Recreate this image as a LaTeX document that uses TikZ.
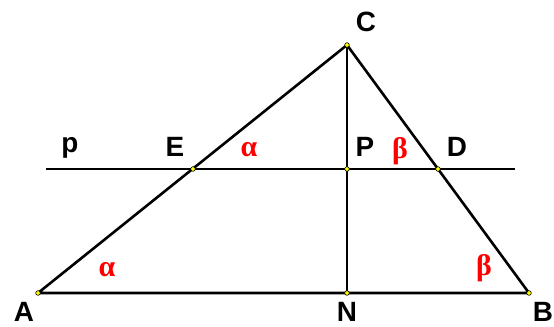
\documentclass[tikz,border=0pt]{standalone}
\usepackage{fontspec}
\setmainfont{Liberation Sans}
\newfontfamily\greekfont{Liberation Serif}
\usepackage{tikz}
\definecolor{ptyellow}{HTML}{FFFF00}

\begin{document}
\begin{tikzpicture}[
    x=1bp,y=-1bp,
    pt/.style={circle,draw=black,fill=ptyellow,inner sep=0pt,minimum size=4.6bp,line width=0.6bp},
    seg/.style={line width=2.6bp,line join=round},
    lbl/.style={inner sep=0pt,font=\bfseries\fontsize{28}{28}\selectfont},
    ang/.style={inner sep=0pt,text=red,font=\greekfont\bfseries\fontsize{30}{30}\selectfont}
  ]
  \useasboundingbox (0,0) rectangle (554,326);
  % vertices and points on the parallel p
  \coordinate (A) at (38,293);
  \coordinate (B) at (529,293);
  \coordinate (C) at (347,45);
  \coordinate (N) at (347,293);
  \coordinate (E) at (193,169);
  \coordinate (P) at (347,169);
  \coordinate (D) at (438,169);
  \coordinate (pl) at (46,169);
  \coordinate (pr) at (515,169);

  \draw[seg] (A) -- (B) -- (C) -- cycle;
  \draw[seg] (C) -- (N);
  \draw[seg] (pl) -- (pr);
  \foreach \q in {A,B,C,N,E,P,D}
    \node[pt] (dot\q) at (\q) {};

  % labels
  \node[lbl] (labA) at (24,312) {A};
  \node[lbl] (labB) at (543,312) {B};
  \node[lbl] (labC) at (366,22) {C};
  \node[lbl] (labN) at (347,312) {N};
  \node[lbl] (labE) at (175,147) {E};
  \node[lbl] (labP) at (365,147) {P};
  \node[lbl] (labD) at (457,147) {D};
  \node[lbl] (labp) at (70,148) {p};
  \node[ang] (alphaE) at (249,150) {α};
  \node[ang] (betaP) at (400,151) {β};
  \node[ang] (alphaA) at (107,270) {α};
  \node[ang] (betaB) at (484,268) {β};
\end{tikzpicture}
\end{document}
